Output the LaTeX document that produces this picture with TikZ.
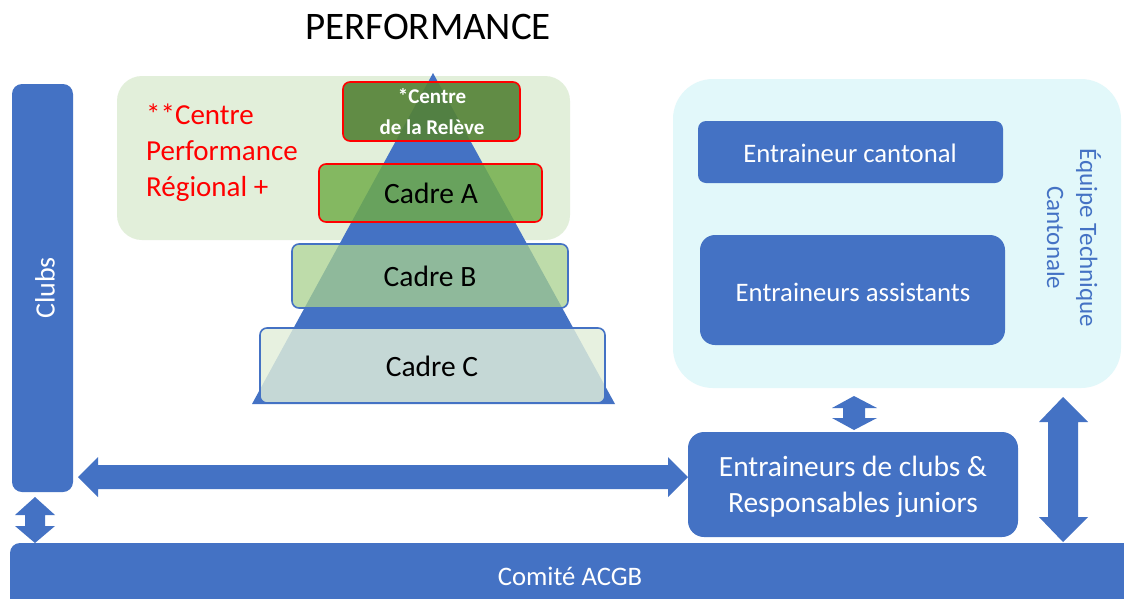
\documentclass[tikz,border=0pt]{standalone}
\usepackage{fontspec}
\setmainfont{Carlito}
\begin{document}
\begin{tikzpicture}[x=1pt,y=-1pt]
\definecolor{mblue}{RGB}{68,114,196}
\definecolor{lcyan}{RGB}{226,248,250}
\definecolor{lgreen}{RGB}{226,239,218}
\definecolor{dgreen}{RGB}{84,130,53}
\definecolor{mgreen}{RGB}{112,173,71}
\definecolor{pgreen}{RGB}{169,209,142}
\definecolor{mred}{RGB}{255,0,0}
\tikzset{
  bluebox/.style={fill=mblue, draw=none, text=white},
  levelred/.style={draw=mred, line width=1.6pt, rounded corners=7},
  levelblue/.style={draw=mblue, line width=1.6pt, rounded corners=7},
  wtxt/.style={text=white, inner sep=0pt},
  ktxt/.style={text=black, inner sep=0pt},
  blockarrow/.style={fill=mblue, draw=none}
}
\useasboundingbox (0,0) rectangle (1124,598);
\fill[white] (0,0) rectangle (1124,598);

% title
\node[ktxt, font=\fontsize{39}{44}\selectfont] (title) at (428,27) {PERFORMANCE};

% background regions
\fill[lgreen, rounded corners=25] (117,76) rectangle (570,240);
\fill[lcyan, rounded corners=40] (673,79) rectangle (1121,388);

% red label
\node[anchor=west, align=left, text=mred, inner sep=0pt, font=\fontsize{29}{36}\selectfont] (cpr) at (146,153) {**Centre\\Performance\\Régional +};

% pyramid
\fill[mblue] (252,404) -- (433,73) -- (615,404) -- cycle;

% levels
\filldraw[levelred, fill=dgreen, fill opacity=0.9] (343,82) rectangle (520,141);
\node[wtxt, align=center, font=\bfseries\fontsize{21}{31}\selectfont] (releve) at (432,112) {*Centre\\de la Relève};
\filldraw[levelred, fill=mgreen, fill opacity=0.82] (319,164) rectangle (542,222);
\node[ktxt, font=\fontsize{29.5}{30}\selectfont] (cA) at (431,193) {Cadre A};
\filldraw[levelblue, fill=pgreen, fill opacity=0.75] (292,244) rectangle (568,308);
\node[ktxt, font=\fontsize{29.5}{30}\selectfont] (cB) at (430,276) {Cadre B};
\filldraw[levelblue, fill=lgreen, fill opacity=0.82] (260,328) rectangle (605,403);
\node[ktxt, font=\fontsize{29.5}{30}\selectfont] (cC) at (432,366) {Cadre C};

% right boxes
\fill[bluebox, rounded corners=8] (698,121) rectangle (1003,183);
\node[wtxt, font=\fontsize{26.7}{30}\selectfont] (cant) at (850,153) {Entraineur cantonal};
\fill[bluebox, rounded corners=15] (700,235) rectangle (1005,345);
\node[wtxt, font=\fontsize{26.7}{30}\selectfont] (assist) at (853,292) {Entraineurs assistants};
\node[text=mblue, inner sep=0pt, align=center, rotate=-90, font=\fontsize{25}{33}\selectfont] (etc) at (1074,238) {Équipe Technique\\Cantonale};

% clubs
\fill[bluebox, rounded corners=10] (12,84) rectangle (73,492);
\node[wtxt, rotate=90, font=\fontsize{28}{30}\selectfont] (clubs) at (45,288) {Clubs};

% entraineurs de clubs
\fill[bluebox, rounded corners=16] (688,432) rectangle (1018,537);
\node[wtxt, align=center, font=\fontsize{29.4}{36}\selectfont] (ecl) at (853,487) {Entraineurs de clubs \&\\Responsables juniors};

% comite
\fill[bluebox, rounded corners=10] (10,543) rectangle (1140,620);
\node[wtxt, font=\fontsize{26.7}{30}\selectfont] (comite) at (570,576) {Comité ACGB};

% block arrows
\fill[blockarrow] (78,477) -- (98,457) -- (98,465) -- (668,465) -- (668,457) -- (688,477) -- (668,497) -- (668,489) -- (98,489) -- (98,497) -- cycle;
\fill[blockarrow] (35,497) -- (55,515) -- (45,515) -- (45,526) -- (55,526) -- (35,543) -- (15,526) -- (25,526) -- (25,515) -- (15,515) -- cycle;
\fill[blockarrow] (854,396) -- (877,408) -- (865,408) -- (865,418) -- (877,418) -- (854,430) -- (832,418) -- (843,418) -- (843,408) -- (832,408) -- cycle;
\fill[blockarrow] (1063,397) -- (1088,422) -- (1078,422) -- (1078,517) -- (1088,517) -- (1063,542) -- (1039,517) -- (1048,517) -- (1048,422) -- (1039,422) -- cycle;
\end{tikzpicture}
\end{document}
